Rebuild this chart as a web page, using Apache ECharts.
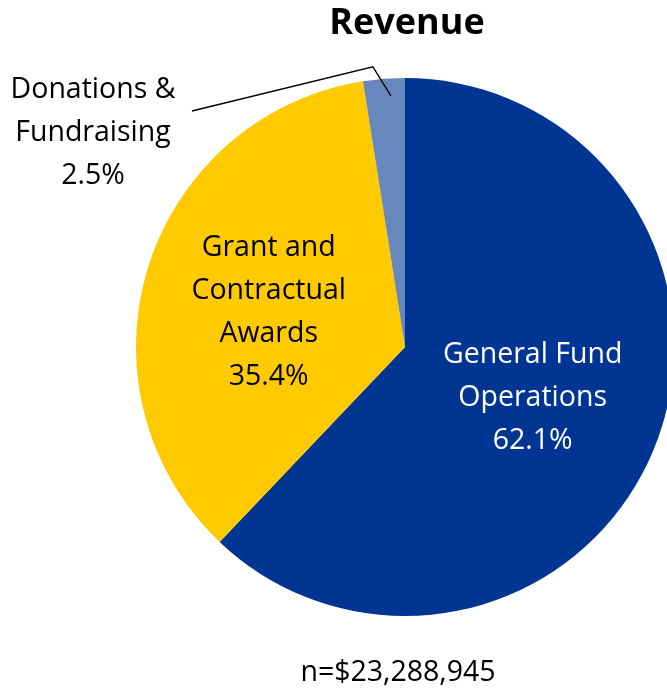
<!DOCTYPE html>
<html>
<head>
<meta charset="utf-8">
<script src="https://cdn.jsdelivr.net/npm/echarts@6/dist/echarts.min.js"></script>
<style>html,body{margin:0;padding:0;background:#fff;}#c{width:667px;height:693px;}</style>
</head>
<body>
<div id="c"></div>
<script>
const categories = ['General Fund\nOperations', 'Grant and\nContractual\nAwards', 'Donations &\nFundraising'];
const shares = [62.1, 35.4, 2.5];
const colors = ['#003594', '#FFCB00', '#6787BD'];
const labelColors = ['#ffffff', '#000000', '#000000'];
const chartTitle = 'Revenue';
const footnote = 'n=$23,288,945';

const chart = echarts.init(document.getElementById('c'));
const FONT = '"Open Sans", "Noto Sans", sans-serif';

const labelBase = {
  formatter: p => p.name + '\n' + p.value.toFixed(1) + '%',
  fontFamily: FONT,
  fontSize: 28.5,
  lineHeight: 43,
  align: 'center'
};

chart.setOption({
  animation: false,
  title: [
    { text: chartTitle, left: 402, top: 1, textAlign: 'center',
      textStyle: { fontFamily: FONT, fontSize: 36, fontWeight: 'bold', color: '#000' } },
    { text: footnote, left: 393, top: 653, textAlign: 'center',
      textStyle: { fontFamily: FONT, fontSize: 28.5, fontWeight: 'normal', color: '#000' } }
  ],
  series: [{
    type: 'pie',
    center: [405, 347],
    radius: 269,
    startAngle: 90,
    clockwise: true,
    z: 2,
    data: categories.map((name, i) => ({
      name: name,
      value: shares[i],
      itemStyle: { color: colors[i] },
      label: {
        show: i !== 2,
        position: 'inside',
        color: labelColors[i],
        offset: i === 1 ? [-5, 6] : [0, 0]
      },
      labelLine: { show: false }
    })),
    itemStyle: { borderWidth: 0 },
    label: labelBase
  }, {
    // overlay layer: carries only the outside label and its leader line, drawn above the slices
    type: 'pie',
    center: [405, 347],
    radius: 269,
    startAngle: 90,
    clockwise: true,
    z: 5,
    silent: true,
    data: categories.map((name, i) => ({
      name: name,
      value: shares[i],
      itemStyle: { color: 'rgba(0,0,0,0)' },
      label: { show: i === 2, position: 'outside', color: '#000' },
      labelLine: { show: i === 2 }
    })),
    itemStyle: { borderWidth: 0 },
    label: labelBase,
    labelLine: { length: 12, length2: 20, lineStyle: { color: '#000', width: 1.3 } },
    labelLayout: function (p) {
      if (p.dataIndex !== 2) return {};
      const pts = p.labelLinePoints;
      const edge = pts[0];
      return {
        x: 93, y: 133,
        align: 'center', verticalAlign: 'middle',
        labelLinePoints: [
          [edge[0] + 7, edge[1] + 17],
          [edge[0] - 11, edge[1] - 12],
          [192, 111]
        ]
      };
    }
  }]
});
</script>
</body>
</html>
